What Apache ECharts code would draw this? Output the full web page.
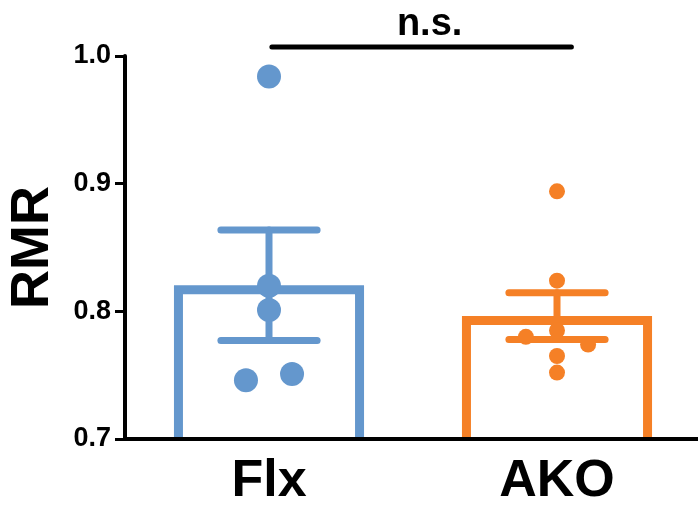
<!DOCTYPE html>
<html><head><meta charset="utf-8">
<script src="https://cdn.jsdelivr.net/npm/echarts@6/dist/echarts.min.js"></script>
<style>html,body{margin:0;padding:0;background:#fff}#c{width:698px;height:516px}</style>
</head><body><div id="c"></div>
<script>
// ---- data ----
const categories = ['Flx', 'AKO'];
const groupColors = ['#6497CD', '#F58026'];
const flxValues = [0.984, 0.820, 0.801, 0.746, 0.751];
const flxJitter = [0, 0, 0, -0.08, 0.08];
const akoValues = [0.894, 0.824, 0.785, 0.780, 0.774, 0.765, 0.752];
const akoJitter = [0, 0, 0, -0.108, 0.108, 0, 0];
const yTickValues = [0.7, 0.8, 0.9, 1.0];
const sigLabel = 'n.s.';
const sigSpan = [0.01, 1.05];
const sigLevel = 1.007;
const yName = 'RMR';

// ---- derived statistics ----
function mean(a) { return a.reduce((s, v) => s + v, 0) / a.length; }
function sem(a) {
  const m = mean(a);
  const v = a.reduce((s, x) => s + (x - m) * (x - m), 0) / (a.length - 1);
  return Math.sqrt(v) / Math.sqrt(a.length);
}
const groups = [flxValues, akoValues];
const barData = groups.map((g, i) => [i, mean(g)]);
const errData = groups.map((g, i) => [i, mean(g), sem(g)]);

const FONT = '"Liberation Sans", Arial, Helvetica, sans-serif';
const yMin = yTickValues[0], yMax = yTickValues[yTickValues.length - 1];
const BAR_W = 0.66, CAP_HALF = 0.167;

const chart = echarts.init(document.getElementById('c'), null, { renderer: 'canvas' });
const option = {
  backgroundColor: '#fff',
  animation: false,
  grid: { left: 125, right: -3, top: 56, bottom: 77, containLabel: false, outerBoundsMode: 'none' },
  xAxis: [{
    type: 'category', data: categories, boundaryGap: true, z: 10,
    axisLine: { onZero: false, lineStyle: { color: '#000', width: 4 } },
    axisTick: { alignWithLabel: true, length: 12, lineStyle: { color: '#000', width: 3 } },
    axisLabel: { color: '#000', fontFamily: FONT, fontWeight: 'bold', fontSize: 52, margin: 17 },
    splitLine: { show: false }
  }, {
    type: 'value', min: -0.5, max: 1.5, show: false
  }],
  yAxis: {
    type: 'value', min: yMin, max: yMax, interval: 0.1, z: 10,
    name: yName, nameLocation: 'middle', nameRotate: 90, nameGap: 65,
    nameTextStyle: { color: '#000', fontFamily: FONT, fontWeight: 'bold', fontSize: 54 },
    axisLine: { show: true, onZero: false, lineStyle: { color: '#000', width: 4 } },
    axisTick: { show: true, length: 10, lineStyle: { color: '#000', width: 3 } },
    axisLabel: { color: '#000', fontFamily: FONT, fontWeight: 'bold', fontSize: 27, margin: 14,
      formatter: v => v.toFixed(1) },
    splitLine: { show: false }
  },
  series: [
    {
      type: 'custom', xAxisIndex: 1, z: 1, clip: false,
      data: barData,
      renderItem(params, api) {
        const i = api.value(0), m = api.value(1);
        const top = api.coord([i, m]);
        const base = api.coord([i, yMin]);
        const w = api.size([BAR_W, 0])[0];
        const sw = 9, h = sw / 2;
        const l = top[0] - w / 2 + h, r = top[0] + w / 2 - h, t = top[1] + h;
        return { type: 'polyline',
          shape: { points: [[l, base[1]], [l, t], [r, t], [r, base[1]]] },
          style: { stroke: groupColors[i], lineWidth: sw, fill: null, lineJoin: 'miter' } };
      }
    },
    {
      type: 'custom', xAxisIndex: 1, z: 3, clip: false,
      data: errData,
      renderItem(params, api) {
        const i = api.value(0), m = api.value(1), e = api.value(2);
        const hi = api.coord([i, m + e]), lo = api.coord([i, m - e]);
        const cw = api.size([CAP_HALF, 0])[0];
        const st = { stroke: groupColors[i], lineWidth: 7, lineCap: 'round' };
        return { type: 'group', children: [
          { type: 'line', shape: { x1: hi[0], y1: hi[1], x2: lo[0], y2: lo[1] }, style: st },
          { type: 'line', shape: { x1: hi[0] - cw, y1: hi[1], x2: hi[0] + cw, y2: hi[1] }, style: st },
          { type: 'line', shape: { x1: lo[0] - cw, y1: lo[1], x2: lo[0] + cw, y2: lo[1] }, style: st }
        ] };
      }
    },
    {
      type: 'scatter', xAxisIndex: 1, z: 4, symbolSize: 24,
      itemStyle: { color: groupColors[0], opacity: 1 },
      data: flxValues.map((v, k) => [0 + flxJitter[k], v])
    },
    {
      type: 'scatter', xAxisIndex: 1, z: 4, symbolSize: 16,
      itemStyle: { color: groupColors[1], opacity: 1 },
      data: akoValues.map((v, k) => [1 + akoJitter[k], v])
    },
    {
      type: 'custom', xAxisIndex: 1, z: 5, clip: false,
      data: [[sigSpan[0], sigSpan[1], sigLevel]],
      renderItem(params, api) {
        const a = api.coord([api.value(0), api.value(2)]);
        const b = api.coord([api.value(1), api.value(2)]);
        return { type: 'group', children: [
          { type: 'line', shape: { x1: a[0], y1: a[1], x2: b[0], y2: b[1] },
            style: { stroke: '#000', lineWidth: 5, lineCap: 'round' } },
          { type: 'text', x: (a[0] + b[0]) / 2 + 8, y: a[1] - 4,
            style: { text: sigLabel, fill: '#000', font: 'bold 38px ' + FONT,
              textAlign: 'center', textVerticalAlign: 'bottom' } }
        ] };
      }
    }
  ]
};
chart.setOption(option);
</script>
</body></html>
